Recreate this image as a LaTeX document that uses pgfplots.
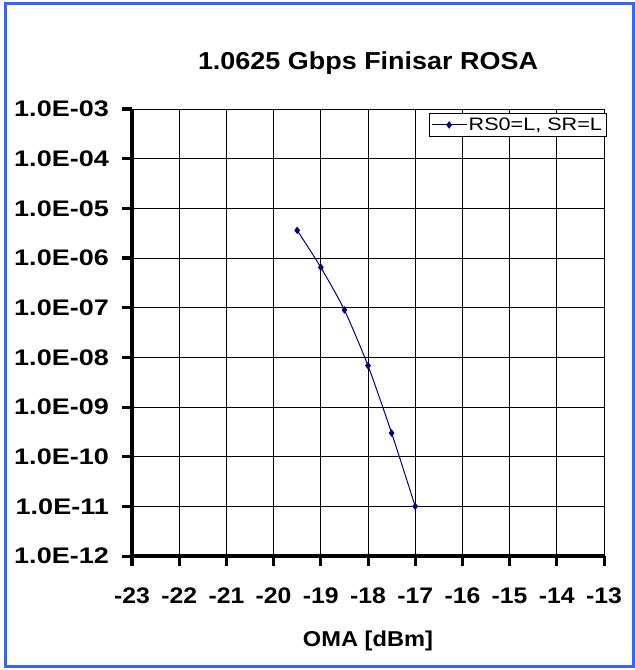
\documentclass[border=0pt]{standalone}
\usepackage{fontspec}
\setmainfont{Liberation Sans}[FakeStretch=1.1]
\newfontfamily\widefont{Liberation Sans}[FakeStretch=1.2]
\usepackage{pgfplots}
\pgfplotsset{compat=1.18}
\definecolor{frameblue}{RGB}{51,102,255}
\definecolor{navyline}{RGB}{0,0,128}
\begin{document}
\begin{tikzpicture}
\useasboundingbox (0,0) rectangle (635bp,670bp);
\draw[frameblue, line width=3.5bp] (5.5bp,3.5bp) rectangle (633.5bp,666.5bp);
\begin{axis}[
  at={(132bp,114bp)}, anchor=south west,
  scale only axis, width=472bp, height=447bp,
  xmin=-23, xmax=-13,
  ymode=log, ymin=1e-12, ymax=1e-3,
  xtick={-23,-22,-21,-20,-19,-18,-17,-16,-15,-14,-13},
  xticklabels={-23,-22,-21,-20,-19,-18,-17,-16,-15,-14,-13},
  ytick={1e-12,1e-11,1e-10,1e-9,1e-8,1e-7,1e-6,1e-5,1e-4,1e-3},
  yticklabels={1.0E-12,1.0E-11,1.0E-10,1.0E-09,1.0E-08,1.0E-07,1.0E-06,1.0E-05,1.0E-04,1.0E-03},
  yminorticks=false,
  tick pos=left,
  axis line style={black, line width=1bp},
  grid=major, grid style={black, line width=0.8bp},
  tick align=outside,
  major tick length=10bp,
  every major tick/.append style={draw=black, line width=3bp},
  xticklabel style={font=\fontsize{22.5bp}{24bp}\selectfont\bfseries, inner sep=0pt, anchor=base, yshift=-38bp},
  yticklabel style={font=\widefont\fontsize{22.5bp}{24bp}\selectfont\bfseries, inner sep=0pt, anchor=east, xshift=-13bp},
  title={1.0625 Gbps Finisar ROSA},
  title style={at={(0.5,1)}, anchor=base, yshift=34bp, font=\fontsize{24.5bp}{26bp}\selectfont\bfseries},
  xlabel={OMA [dBm]},
  xlabel style={at={(axis description cs:0.5,0)}, anchor=base, yshift=-90bp, font=\fontsize{21.5bp}{23bp}\selectfont\bfseries},
  legend style={at={(1.006,0.991)}, anchor=north east, draw=black, line width=0.8bp,
    font=\widefont\fontsize{18bp}{20bp}\selectfont, inner sep=2.5bp},
  legend cell align=left,
  legend image code/.code={\draw[mark repeat=2,mark phase=2] plot coordinates {(0bp,0bp) (17bp,0bp) (34bp,0bp)};},
  after end axis/.code={
    \draw[black, line width=3.5bp] (rel axis cs:0,1) -- (rel axis cs:0,0) -- (rel axis cs:1,0);
    \foreach \t in {0,0.1,...,1.01} {\draw[black, line width=3bp] (rel axis cs:\t,0) -- ++(0,-10bp);}
    \foreach \t in {0,0.111111,...,1.01} {\draw[black, line width=3bp] (rel axis cs:0,\t) -- ++(-10bp,0);}
  },
]
\addplot[navyline, line width=1bp, mark=diamond*, mark size=3bp, mark options={solid}, smooth, tension=0.4]
  coordinates {(-19.5,3.6e-6) (-19,6.5e-7) (-18.5,9e-8) (-18,6.8e-9) (-17.5,3.0e-10) (-17,1.0e-11)};
\addlegendentry{RS0=L, SR=L}
\end{axis}
\end{tikzpicture}
\end{document}
